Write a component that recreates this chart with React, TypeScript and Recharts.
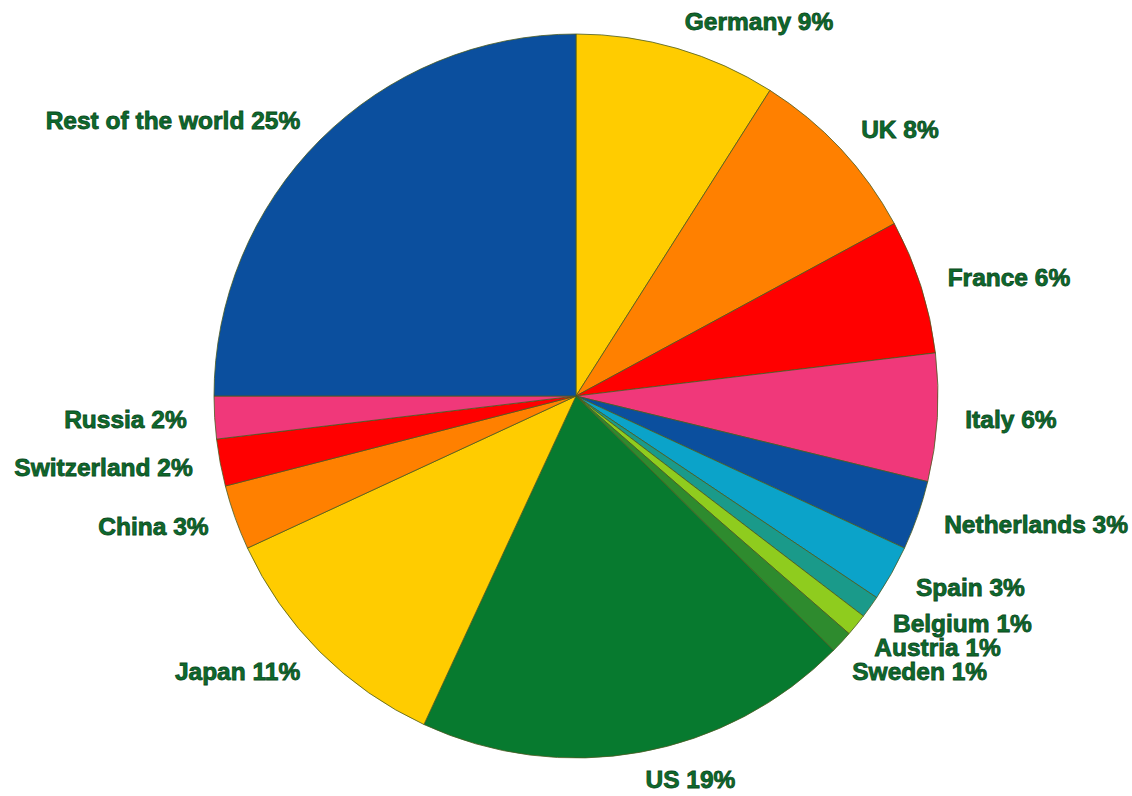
import React from "react";
import { PieChart, Pie, Cell } from "recharts";

const countries = [
  "Germany", "UK", "France", "Italy", "Netherlands", "Spain", "Belgium", "Austria",
  "Sweden", "US", "Japan", "China", "Switzerland", "Russia", "Rest of the world",
];
const shares = [9.0, 8.1, 6.0, 5.7, 3.1, 2.5, 1.0, 1.0, 1.0, 19.5, 11.2, 2.9, 2.1, 1.9, 25.0];
const percentLabels = ["9%", "8%", "6%", "6%", "3%", "3%", "1%", "1%", "1%", "19%", "11%", "3%", "2%", "2%", "25%"];
const colors = [
  "#ffcc00", "#ff8000", "#ff0000", "#f0387a", "#0b4f9e", "#0ba3c9", "#1a9a8a", "#8fcc1e",
  "#2e8b2e", "#077a2f", "#ffcc00", "#ff8000", "#ff0000", "#f0387a", "#0b4f9e",
];

const data = countries.map((name, i) => ({ name, value: shares[i], pct: percentLabels[i] }));

const W = 1132;
const H = 796;
const CX = 576;
const CY = 396;
const R = 362;
const LABEL_R = 390;
const MIN_GAP = 24;

// label angles (degrees clockwise from top), spread apart when crowded
const total = shares.reduce((a, b) => a + b, 0);
const labelAngles: number[] = (() => {
  let cum = 0;
  const mids = shares.map((v) => {
    const m = ((cum + v / 2) / total) * 360;
    cum += v;
    return m;
  });
  const out = [...mids];
  let prevY: number | null = null;
  for (let i = 0; i < out.length; i++) {
    const a = out[i];
    if (a > 90 && a < 180) {
      let y = -LABEL_R * Math.cos((a * Math.PI) / 180);
      if (prevY !== null && y < prevY + MIN_GAP) {
        y = prevY + MIN_GAP;
        out[i] = 180 - (Math.acos(y / LABEL_R) * 180) / Math.PI;
      }
      prevY = y;
    } else if (a >= 0 && a <= 90) {
      prevY = -LABEL_R * Math.cos((a * Math.PI) / 180);
    }
  }
  return out;
})();

const renderLabel = (props: any) => {
  const { cx, cy, index, name, payload } = props;
  const a = (labelAngles[index] * Math.PI) / 180;
  const x = cx + LABEL_R * Math.sin(a);
  const y = cy - LABEL_R * Math.cos(a);
  const anchor = Math.sin(a) >= 0 ? "start" : "end";
  return (
    <text
      x={x}
      y={y}
      textAnchor={anchor}
      dominantBaseline="central"
      fill="#0e6a2d"
      stroke="#0a4a20"
      strokeWidth={0.8}
      fontFamily="'Liberation Sans', Arial, sans-serif"
      fontWeight="bold"
      fontSize={24.5}
    >
      {`${name} ${payload.pct}`}
    </text>
  );
};

export default function App() {
  return (
    <div style={{ position: "absolute", left: 0, top: 0, width: W, height: H, background: "#ffffff" }}>
      <PieChart width={W} height={H} margin={{ top: 0, right: 0, bottom: 0, left: 0 }}>
        <Pie
          data={data}
          dataKey="value"
          nameKey="name"
          cx={CX}
          cy={CY}
          outerRadius={R}
          startAngle={90}
          endAngle={-270}
          stroke="#4a5a20"
          strokeWidth={0.8}
          label={renderLabel}
          labelLine={false}
          isAnimationActive={false}
        >
          {data.map((d, i) => (
            <Cell key={d.name} fill={colors[i]} />
          ))}
        </Pie>
      </PieChart>
    </div>
  );
}
